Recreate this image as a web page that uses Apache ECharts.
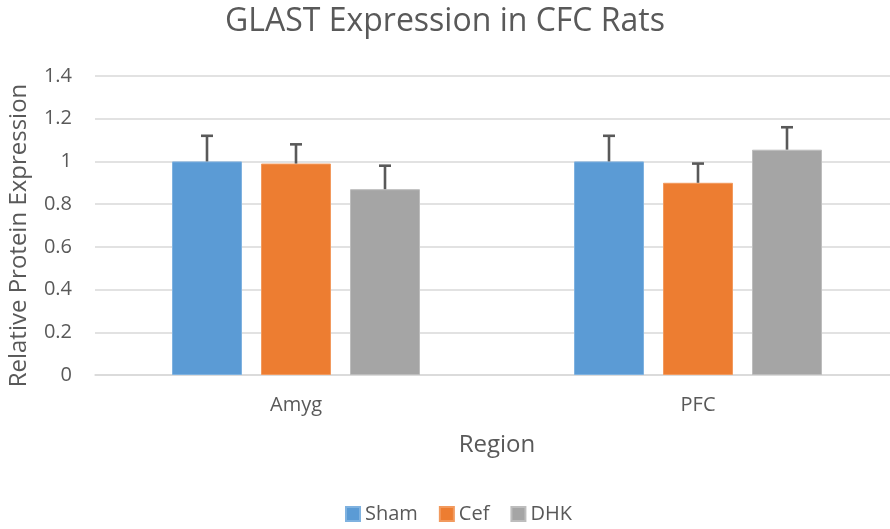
<!DOCTYPE html>
<html><head><meta charset="utf-8">
<script src="https://cdn.jsdelivr.net/npm/echarts@6/dist/echarts.min.js"></script>
<style>html,body{margin:0;padding:0;background:#fff}#c{width:890px;height:529px}</style>
</head><body><div id="c"></div>
<script>
const categories = ['Amyg', 'PFC'];
const seriesNames = ['Sham', 'Cef', 'DHK'];
const shamValues = [1.0, 1.0];
const cefValues = [0.99, 0.90];
const dhkValues = [0.87, 1.055];
const shamErr = [0.12, 0.12];
const cefErr = [0.09, 0.09];
const dhkErr = [0.11, 0.105];
const yTicks = [0, 0.2, 0.4, 0.6, 0.8, 1, 1.2, 1.4];

const colors = ['#5B9BD5', '#ED7D31', '#A5A5A5'];
const borders = ['#7FB2E0', '#F29A5E', '#BDBDBD'];
const values = [shamValues, cefValues, dhkValues];
const errs = [shamErr, cefErr, dhkErr];
const FONT = 'Open Sans';
const BAR_W = 70, GAP = 19;

const chart = echarts.init(document.getElementById('c'));
const series = [];
seriesNames.forEach((n, i) => {
  series.push({
    name: n, type: 'bar', data: values[i], barWidth: BAR_W, barGap: (GAP / BAR_W * 100) + '%',
    itemStyle: { color: colors[i], borderColor: borders[i], borderWidth: 1 },
    z: 2
  });
});
seriesNames.forEach((n, i) => {
  series.push({
    type: 'custom', name: n + '_err', z: 5,
    data: categories.map((c, k) => [k, values[i][k], values[i][k] + errs[i][k]]),
    renderItem: function (params, api) {
      const base = api.coord([api.value(0), api.value(1)]);
      const top = api.coord([api.value(0), api.value(2)]);
      const offset = (i - 1) * (BAR_W + GAP);
      const x = base[0] + offset;
      const cap = 6;
      return {
        type: 'group', children: [
          { type: 'line', shape: { x1: x, y1: base[1], x2: x, y2: top[1] }, style: { stroke: '#595959', lineWidth: 2.6 } },
          { type: 'line', shape: { x1: x - cap, y1: top[1], x2: x + cap, y2: top[1] }, style: { stroke: '#595959', lineWidth: 2.6 } }
        ]
      };
    },
    encode: { x: 0, y: [1, 2] },
    tooltip: { show: false }
  });
});

chart.setOption({
  animation: false,
  color: colors,
  title: {
    text: 'GLAST Expression in CFC Rats', left: 'center', top: 1,
    textStyle: { fontFamily: FONT, fontSize: 32, fontWeight: 'normal', color: '#595959' }
  },
  legend: {
    data: seriesNames, bottom: 0, left: 340, itemWidth: 14, itemHeight: 14, itemGap: 21,
    icon: 'rect',
    textStyle: { fontFamily: FONT, fontSize: 20, color: '#595959' }
  },
  grid: { left: 95, width: 804, top: 76, bottom: 154, outerBoundsMode: 'none', containLabel: false },
  xAxis: {
    type: 'category', data: categories,
    name: 'Region', nameLocation: 'middle', nameGap: 58,
    nameTextStyle: { fontFamily: FONT, fontSize: 24, color: '#595959' },
    axisLine: { lineStyle: { color: '#D9D9D9', width: 1.5 } },
    axisTick: { show: false },
    axisLabel: { fontFamily: FONT, fontSize: 20, color: '#595959', margin: 20 }
  },
  yAxis: {
    type: 'value', min: 0, max: 1.4, interval: 0.2,
    name: 'Relative Protein Expression', nameLocation: 'middle', nameGap: 64,
    nameTextStyle: { fontFamily: FONT, fontSize: 24, color: '#595959', padding: [0, 20, 0, 0] },
    axisLine: { show: false }, axisTick: { show: false },
    splitLine: { lineStyle: { color: '#D9D9D9', width: 1.5 } },
    axisLabel: {
      fontFamily: FONT, fontSize: 20, color: '#595959', margin: 23,
      formatter: v => { const t = yTicks.find(x => Math.abs(x - v) < 1e-6); return t === undefined ? '' : String(t); }
    }
  },
  series: series
});
</script></body></html>
